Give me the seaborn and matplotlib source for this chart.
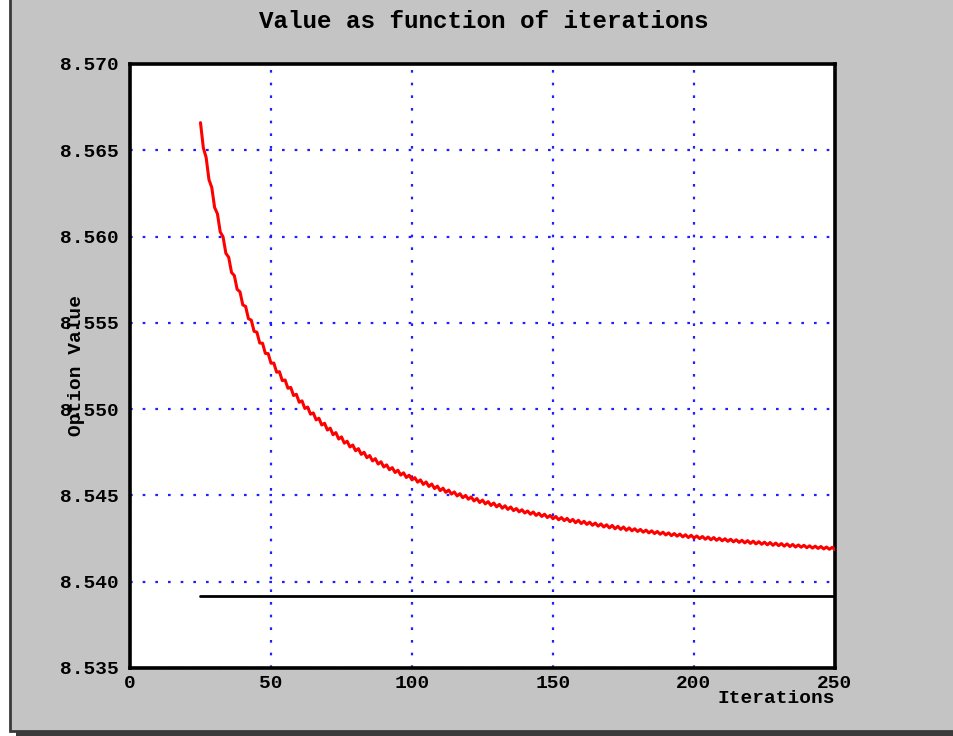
import matplotlib
matplotlib.use("Agg")
import matplotlib.pyplot as plt
from matplotlib.patches import Rectangle
from matplotlib.ticker import MultipleLocator, FormatStrFormatter
import seaborn as sns
import pandas as pd

# ---- data ----
iterations = list(range(25, 251))
option_value = [
    8.56660, 8.56515, 8.56458, 8.56330, 8.56284, 8.56169, 8.56132, 8.56027, 8.55998, 8.55903,
    8.55880, 8.55792, 8.55774, 8.55694, 8.55680, 8.55604, 8.55595, 8.55524, 8.55516, 8.55451,
    8.55446, 8.55383, 8.55382, 8.55323, 8.55322, 8.55266, 8.55267, 8.55214, 8.55217, 8.55165,
    8.55169, 8.55121, 8.55126, 8.55079, 8.55086, 8.55040, 8.55048, 8.55004, 8.55012, 8.54971,
    8.54978, 8.54938, 8.54947, 8.54908, 8.54918, 8.54879, 8.54890, 8.54852, 8.54864, 8.54827,
    8.54839, 8.54803, 8.54814, 8.54781, 8.54792, 8.54759, 8.54771, 8.54738, 8.54750, 8.54719,
    8.54731, 8.54700, 8.54713, 8.54682, 8.54695, 8.54665, 8.54677, 8.54649, 8.54661, 8.54633,
    8.54646, 8.54618, 8.54631, 8.54604, 8.54617, 8.54590, 8.54603, 8.54577, 8.54590, 8.54564,
    8.54578, 8.54552, 8.54566, 8.54540, 8.54554, 8.54528, 8.54542, 8.54518, 8.54531, 8.54508,
    8.54520, 8.54497, 8.54510, 8.54487, 8.54500, 8.54478, 8.54491, 8.54468, 8.54482, 8.54459,
    8.54473, 8.54451, 8.54464, 8.54442, 8.54456, 8.54434, 8.54448, 8.54426, 8.54440, 8.54419,
    8.54433, 8.54412, 8.54424, 8.54405, 8.54417, 8.54398, 8.54410, 8.54391, 8.54404, 8.54384,
    8.54397, 8.54378, 8.54391, 8.54372, 8.54384, 8.54365, 8.54378, 8.54359, 8.54372, 8.54354,
    8.54367, 8.54348, 8.54361, 8.54342, 8.54356, 8.54337, 8.54350, 8.54332, 8.54345, 8.54327,
    8.54340, 8.54322, 8.54335, 8.54317, 8.54330, 8.54312, 8.54326, 8.54307, 8.54321, 8.54303,
    8.54317, 8.54298, 8.54312, 8.54295, 8.54307, 8.54291, 8.54303, 8.54287, 8.54299, 8.54283,
    8.54295, 8.54279, 8.54291, 8.54275, 8.54287, 8.54271, 8.54283, 8.54267, 8.54279, 8.54264,
    8.54276, 8.54260, 8.54272, 8.54256, 8.54269, 8.54253, 8.54265, 8.54250, 8.54262, 8.54246,
    8.54259, 8.54243, 8.54256, 8.54240, 8.54252, 8.54237, 8.54249, 8.54234, 8.54246, 8.54231,
    8.54243, 8.54228, 8.54240, 8.54225, 8.54238, 8.54222, 8.54235, 8.54219, 8.54232, 8.54217,
    8.54229, 8.54214, 8.54227, 8.54211, 8.54224, 8.54209, 8.54221, 8.54206, 8.54219, 8.54204,
    8.54216, 8.54201, 8.54213, 8.54200, 8.54211, 8.54197, 8.54208, 8.54195, 8.54206, 8.54193,
    8.54204, 8.54190, 8.54201, 8.54188, 8.54199, 8.54186,
]
reference_x = [25, 250]
reference_value = [8.53917, 8.53917]

x_ticks = [0, 50, 100, 150, 200, 250]
y_ticks = [8.535, 8.540, 8.545, 8.550, 8.555, 8.560, 8.565, 8.570]

title = "Value as function of iterations"
x_label = "Iterations"
y_label = "Option Value"

# ---- styling ----
sns.set_style("white")
mono = ["Liberation Mono", "DejaVu Sans Mono"]
plt.rcParams["font.family"] = mono
plt.rcParams["font.weight"] = "bold"
plt.rcParams["text.color"] = "black"
plt.rcParams["axes.labelcolor"] = "black"
plt.rcParams["xtick.color"] = "black"
plt.rcParams["ytick.color"] = "black"

W, H = 954, 736
fig = plt.figure(figsize=(W / 100, H / 100), dpi=100)
fig.patch.set_facecolor("white")

# gray panel with dark frame and shadow
fig.patches.append(Rectangle((16 / W, 0), 1.0, (736 - 731) / H, transform=fig.transFigure,
                             facecolor="#3c3c3c", edgecolor="none", zorder=0))
fig.patches.append(Rectangle((10 / W, (736 - 731) / H), 1.2, 731 / H + 0.01,
                             transform=fig.transFigure, facecolor="#c4c4c4",
                             edgecolor="#3a3a3a", linewidth=2.0, zorder=1))

ax = fig.add_axes([130 / W, 1 - 668 / H, (835 - 130) / W, (668 - 64) / H])
ax.set_facecolor("white")
ax.set_zorder(2)

df_main = pd.DataFrame({"Iterations": iterations, "Option Value": option_value})
df_ref = pd.DataFrame({"Iterations": reference_x, "Option Value": reference_value})

sns.lineplot(data=df_main, x="Iterations", y="Option Value", ax=ax,
             color="#ff0000", linewidth=2.2, zorder=4)
sns.lineplot(data=df_ref, x="Iterations", y="Option Value", ax=ax,
             color="black", linewidth=2.0, zorder=3)

ax.set_xlim(0, 250)
ax.set_ylim(8.535, 8.570)
ax.set_xticks(x_ticks)
ax.set_yticks(y_ticks)
ax.yaxis.set_minor_locator(MultipleLocator(0.001))
ax.yaxis.set_major_formatter(FormatStrFormatter("%.3f"))

ax.grid(True, which="major", color="#1f1fff", linestyle=(0, (1.2, 4.5)), linewidth=1.6)
ax.set_axisbelow(True)

for s in ax.spines.values():
    s.set_color("black")
    s.set_linewidth(2.6)
    s.set_visible(True)

ax.tick_params(axis="both", which="major", direction="in", length=6, width=1.5,
               color="black", labelcolor="black", labelsize=14, pad=4)
ax.tick_params(axis="y", which="major", length=0, pad=8)
ax.tick_params(axis="y", which="minor", direction="in", length=5, width=1.5, color="black")
ax.tick_params(axis="x", which="major", pad=5)
for lab in ax.get_xticklabels() + ax.get_yticklabels():
    lab.set_fontweight("bold")
    lab.set_family(mono)
    lab.set_color("black")

ax.set_xlabel(x_label, fontsize=14, fontweight="bold", family=mono, ha="right", color="black")
ax.xaxis.set_label_coords(1.0, -0.037)
ax.set_ylabel(y_label, fontsize=14, fontweight="bold", family=mono, color="black")
ax.yaxis.set_label_coords(-0.064, 0.5)

fig.text(484 / W, 1 - 21 / H, title, ha="center", va="center", fontsize=17.5,
         fontweight="bold", family=mono, color="black")

fig.savefig("out.png", dpi=100, facecolor=fig.get_facecolor())
